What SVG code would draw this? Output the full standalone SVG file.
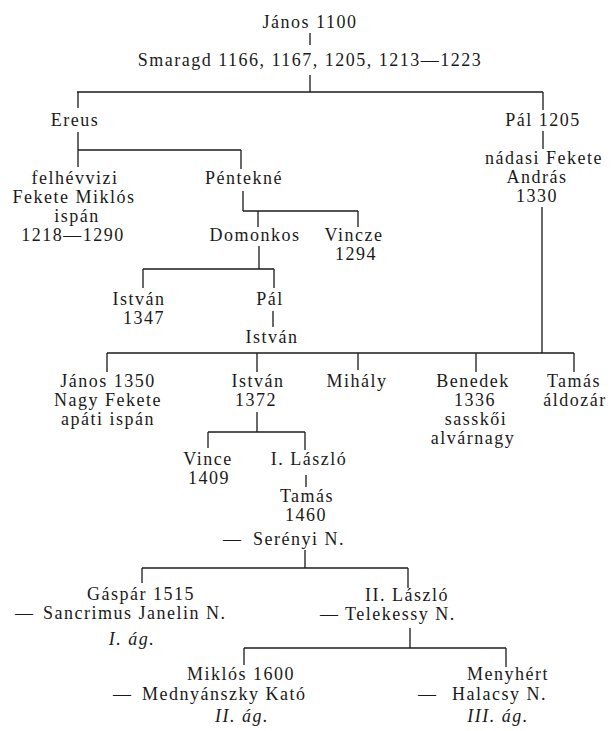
<svg xmlns="http://www.w3.org/2000/svg" width="612" height="731" viewBox="0 0 612 731">
<style>
text{font-family:"Liberation Serif","Times New Roman",serif;font-size:18px;letter-spacing:1.5px;fill:#1a1a1a;text-anchor:middle}
.s{text-anchor:start}
.i{font-style:italic}
#connectors line{stroke:#1a1a1a;stroke-width:1.3}
</style>
<rect width="612" height="731" fill="#fff"/>
<g id="connectors">
<line x1="310" y1="33" x2="310" y2="45"/>
<line x1="310" y1="75" x2="310" y2="92"/>
<line x1="77" y1="92" x2="543" y2="92"/>
<line x1="78" y1="92" x2="78" y2="108"/>
<line x1="543" y1="92" x2="543" y2="110"/>
<line x1="78" y1="132" x2="78" y2="167"/>
<line x1="78" y1="150" x2="241" y2="150"/>
<line x1="241" y1="150" x2="241" y2="169"/>
<line x1="543" y1="131" x2="543" y2="149"/>
<line x1="243" y1="191" x2="243" y2="211"/>
<line x1="243" y1="211" x2="358" y2="211"/>
<line x1="258" y1="211" x2="258" y2="227"/>
<line x1="358" y1="211" x2="358" y2="227"/>
<line x1="259" y1="246" x2="259" y2="269"/>
<line x1="143" y1="269" x2="274" y2="269"/>
<line x1="143" y1="269" x2="143" y2="288"/>
<line x1="274" y1="269" x2="274" y2="288"/>
<line x1="273" y1="311" x2="273" y2="327"/>
<line x1="542" y1="207" x2="542" y2="353"/>
<line x1="107" y1="353" x2="574" y2="353"/>
<line x1="107" y1="353" x2="107" y2="372"/>
<line x1="257" y1="353" x2="257" y2="372"/>
<line x1="358" y1="353" x2="358" y2="370"/>
<line x1="476" y1="353" x2="476" y2="372"/>
<line x1="574" y1="353" x2="574" y2="372"/>
<line x1="257" y1="412" x2="257" y2="432"/>
<line x1="208" y1="432" x2="305" y2="432"/>
<line x1="208" y1="432" x2="208" y2="448"/>
<line x1="305" y1="432" x2="305" y2="450"/>
<line x1="306" y1="475" x2="306" y2="487"/>
<line x1="305" y1="550" x2="305" y2="568"/>
<line x1="142" y1="568" x2="408" y2="568"/>
<line x1="142" y1="568" x2="142" y2="583"/>
<line x1="408" y1="568" x2="408" y2="588"/>
<line x1="410" y1="628" x2="410" y2="648"/>
<line x1="244" y1="648" x2="506" y2="648"/>
<line x1="244" y1="648" x2="244" y2="665"/>
<line x1="506" y1="648" x2="506" y2="667"/>
</g>
<g id="janos1100"><text x="310" y="28">János 1100</text></g>
<g id="smaragd"><text x="310" y="66">Smaragd 1166, 1167, 1205, 1213—1223</text></g>
<g id="ereus"><text x="75" y="126">Ereus</text></g>
<g id="pal1205"><text x="543" y="126">Pál 1205</text></g>
<g id="miklos"><text x="75" y="184">felhévvizi</text><text x="74" y="203">Fekete Miklós</text><text x="77" y="222">ispán</text><text x="73" y="241">1218—1290</text></g>
<g id="penteke"><text x="244" y="184">Péntekné</text></g>
<g id="andras"><text x="544" y="164">nádasi Fekete</text><text x="537" y="183">András</text><text x="537" y="202">1330</text></g>
<g id="domonkos"><text x="255" y="241">Domonkos</text></g>
<g id="vincze"><text x="354" y="241">Vincze</text><text x="356" y="260">1294</text></g>
<g id="istvan1347"><text x="139" y="305">István</text><text x="144" y="324">1347</text></g>
<g id="pal"><text x="270" y="305">Pál</text></g>
<g id="istvan"><text x="272" y="343">István</text></g>
<g id="janos1350"><text x="108" y="387">János 1350</text><text x="108" y="406">Nagy Fekete</text><text x="108" y="425">apáti ispán</text></g>
<g id="istvan1372"><text x="258" y="387">István</text><text x="256" y="406">1372</text></g>
<g id="mihaly"><text x="357" y="387">Mihály</text></g>
<g id="benedek"><text x="473" y="387">Benedek</text><text x="475" y="406">1336</text><text x="476" y="425">sasskői</text><text x="473" y="444">alvárnagy</text></g>
<g id="tamas-aldozar"><text x="574" y="387">Tamás</text><text x="575" y="406">áldozár</text></g>
<g id="vince"><text x="208" y="465">Vince</text><text x="209" y="484">1409</text></g>
<g id="laszlo1"><text x="309" y="465">I. László</text></g>
<g id="tamas1460"><text x="307" y="502">Tamás</text><text x="306" y="521">1460</text><text class="s" y="545"><tspan x="223">—</tspan><tspan x="253">Serényi N.</tspan></text></g>
<g id="gaspar"><text x="141" y="600">Gáspár 1515</text><text class="s" y="619"><tspan x="15">—</tspan><tspan x="43">Sancrimus Janelin N.</tspan></text><text class="i" x="132" y="645">I. ág.</text></g>
<g id="laszlo2"><text x="407" y="601">II. László</text><text class="s" y="620"><tspan x="320">—</tspan><tspan x="345">Telekessy N.</tspan></text></g>
<g id="miklos1600"><text x="241" y="680">Miklós 1600</text><text class="s" y="700"><tspan x="113">—</tspan><tspan x="142">Mednyánszky Kató</tspan></text><text class="i" x="242" y="722">II. ág.</text></g>
<g id="menyhert"><text x="508" y="680">Menyhért</text><text class="s" y="700"><tspan x="418">—</tspan><tspan x="452">Halacsy N.</tspan></text><text class="i" x="498" y="722">III. ág.</text></g>
</svg>
